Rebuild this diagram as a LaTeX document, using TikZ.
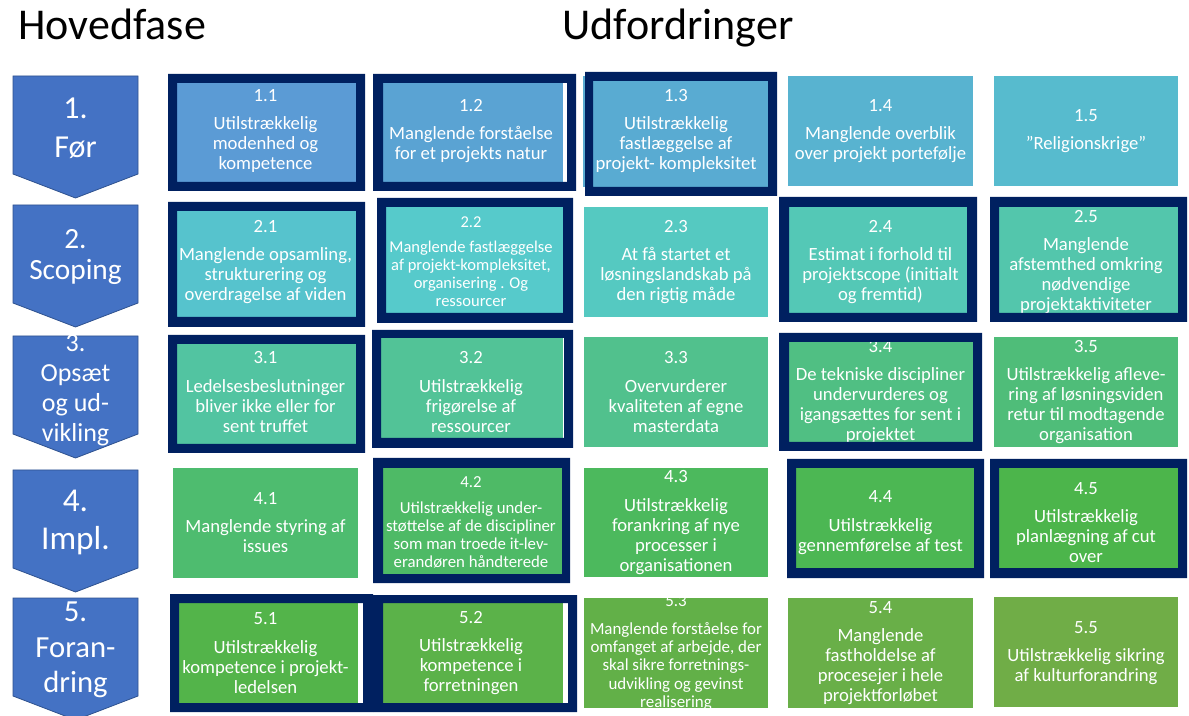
\documentclass[tikz,border=0pt]{standalone}
\usepackage{fontspec}
\setmainfont{Carlito}

% frame and phase colours
\definecolor{navy}{HTML}{002060}
\definecolor{phase}{HTML}{4472C4}
\definecolor{phaseline}{HTML}{2F528F}

% challenge boxes: hue sweep from blue to green
\definecolor{c11}{Hsb}{208.5,.573,.835}
\definecolor{c12}{Hsb}{203.8,.574,.828}
\definecolor{c13}{Hsb}{199.1,.574,.822}
\definecolor{c14}{Hsb}{194.4,.575,.815}
\definecolor{c15}{Hsb}{189.8,.576,.809}
\definecolor{c21}{Hsb}{185.1,.577,.802}
\definecolor{c22}{Hsb}{180.4,.577,.796}
\definecolor{c23}{Hsb}{175.7,.578,.789}
\definecolor{c24}{Hsb}{171.0,.579,.783}
\definecolor{c25}{Hsb}{166.3,.579,.776}
\definecolor{c31}{Hsb}{161.6,.580,.770}
\definecolor{c32}{Hsb}{156.9,.581,.763}
\definecolor{c33}{Hsb}{152.3,.582,.757}
\definecolor{c34}{Hsb}{147.6,.582,.750}
\definecolor{c35}{Hsb}{142.9,.583,.743}
\definecolor{c41}{Hsb}{138.2,.584,.737}
\definecolor{c42}{Hsb}{133.5,.584,.730}
\definecolor{c43}{Hsb}{128.8,.585,.724}
\definecolor{c44}{Hsb}{124.1,.586,.717}
\definecolor{c45}{Hsb}{119.4,.586,.711}
\definecolor{c51}{Hsb}{114.8,.587,.704}
\definecolor{c52}{Hsb}{110.1,.588,.698}
\definecolor{c53}{Hsb}{105.4,.589,.691}
\definecolor{c54}{Hsb}{100.7,.589,.685}
\definecolor{c55}{Hsb}{96.0,.590,.678}

% thick navy frame: outer rectangle minus inner hole
\newcommand{\navyframe}[8]{\fill[navy,even odd rule] (#1,#2) rectangle (#3,#4) (#5,#6) rectangle (#7,#8);}
% downward pentagon arrow for a phase, top edge at #1
\newcommand{\phaseshape}[1]{\filldraw[phasearrow] (13,#1) -- (138,#1) -- (138,#1+98) -- (75.5,#1+122) -- (13,#1+98) -- cycle;}

\begin{document}
\begin{tikzpicture}[x=0.75pt,y=-0.75pt,
  head/.style={font=\fontsize{33}{38}\selectfont, inner sep=0pt, anchor=base west},
  phasearrow/.style={fill=phase, draw=phaseline, line width=0.6pt},
  phasetxt/.style={text=white, align=center, inner sep=0pt},
  lbl/.style={text=white, align=center, inner sep=0pt, font=\fontsize{14}{15}\selectfont},
]
\useasboundingbox (0,0) rectangle (1189,716);
\fill[white] (0,0) rectangle (1189,716);

% headings
\node[head] (hfase) at (18,40) {Hovedfase};
\node[head] (udf) at (562,40) {Udfordringer};

% phases
\phaseshape{76}
\phaseshape{205}
\phaseshape{336}
\phaseshape{470}
\phaseshape{598}
\node[phasetxt, font=\fontsize{24}{29}\selectfont] (ph1) at (75.5,128) {1.\\Før};
\node[phasetxt, font=\fontsize{22}{23}\selectfont] (ph2) at (75.5,257) {2.\\Scoping};
\node[phasetxt, font=\fontsize{19.5}{22.5}\selectfont] (ph3) at (75.5,390) {3.\\Opsæt\\og ud-\\vikling};
\node[phasetxt, font=\fontsize{25}{28.5}\selectfont] (ph4) at (75.5,522) {4.\\Impl.};
\node[phasetxt, font=\fontsize{23}{26.5}\selectfont] (ph5) at (75.5,650) {5.\\Foran-\\dring};

% row 1
\fill[c11] (177,83) rectangle (356,182);
\node[lbl] (t11) at (265.5,131) {1.1\\[6.5pt]Utilstrækkelig\\modenhed og\\kompetence};
\navyframe{168}{74}{365}{191}{177}{83}{356}{182}

\fill[c12] (383,83) rectangle (563,182);
\node[lbl] (t12) at (471,131) {1.2\\[6.5pt]Manglende forståelse\\for et projekts natur};
\navyframe{373}{74}{576}{191}{383}{83}{567}{182}

\fill[c13] (583,76) rectangle (768,187);
\node[lbl] (t13) at (676,131) {1.3\\[6.5pt]Utilstrækkelig\\fastlæggelse af\\projekt- kompleksitet};
\navyframe{585}{72}{777}{196}{593}{81}{768}{187}

\fill[c14] (788,76) rectangle (973,186);
\node[lbl] (t14) at (880.5,131) {1.4\\[6.5pt]Manglende overblik\\over projekt portefølje};

\fill[c15] (994,76) rectangle (1178,186);
\node[lbl] (t15) at (1086,131) {1.5\\[6.5pt]”Religionskrige”};

% row 2
\fill[c21] (177,211) rectangle (356,317);
\node[lbl] (t21) at (265.5,262) {2.1\\[6.5pt]Manglende opsamling,\\strukturering og\\overdragelse af viden};
\navyframe{168}{202}{365}{327}{177}{211}{356}{317}

\fill[c22] (386,207) rectangle (563,313);
\node[lbl, font=\fontsize{12.4}{13.6}\selectfont] (t22) at (471,262) {2.2\\[5pt]Manglende fastlæggelse\\af projekt-kompleksitet,\\organisering . Og\\ressourcer};
\navyframe{377}{198}{573}{323}{386}{207}{563}{313}

\fill[c23] (584,207) rectangle (768,317);
\node[lbl] (t23) at (676,262) {2.3\\[6.5pt]At få startet et\\løsningslandskab på\\den rigtig måde};

\fill[c24] (789,207) rectangle (967,313);
\node[lbl] (t24) at (880.5,262) {2.4\\[6.5pt]Estimat i forhold til\\projektscope (initialt\\og fremtid)};
\navyframe{779}{197}{977}{322}{789}{207}{967}{313}

\fill[c25] (999,207) rectangle (1178,313);
\node[lbl] (t25) at (1086,262) {2.5\\[6.5pt]Manglende\\afstemthed omkring\\nødvendige\\projektaktiviteter};
\navyframe{990}{197}{1187}{322}{999}{207}{1178}{313}

% row 3
\fill[c31] (177,344) rectangle (356,444);
\node[lbl] (t31) at (265.5,392) {3.1\\[6.5pt]Ledelsesbeslutninger\\bliver ikke eller for\\sent truffet};
\navyframe{168}{335}{365}{453}{177}{344}{356}{444}

\fill[c32] (381,338) rectangle (563,438);
\node[lbl] (t32) at (471,392) {3.2\\[6.5pt]Utilstrækkelig\\frigørelse af\\ressourcer};
\navyframe{372}{330}{573}{448}{381}{338}{564}{438}

\fill[c33] (584,337) rectangle (768,447);
\node[lbl] (t33) at (676,392) {3.3\\[6.5pt]Overvurderer\\kvaliteten af egne\\masterdata};

\fill[c34] (789,342) rectangle (973,442);
\node[lbl] (t34) at (880.5,392) {3.4\\[6.5pt]De tekniske discipliner\\undervurderes og\\igangsættes for sent i\\projektet};
\navyframe{779}{333}{982}{451}{789}{342}{973}{442}

\fill[c35] (994,337) rectangle (1178,447);
\node[lbl] (t35) at (1086,392) {3.5\\[6.5pt]Utilstrækkelig afleve-\\ring af løsningsviden\\retur til modtagende\\organisation};

% row 4
\fill[c41] (173,468) rectangle (358,578);
\node[lbl] (t41) at (265.5,522.5) {4.1\\[6.5pt]Manglende styring af\\issues};

\fill[c42] (383,468) rectangle (562,574);
\node[lbl, font=\fontsize{12.6}{13.5}\selectfont] (t42) at (471,522.5) {4.2\\[6pt]Utilstrækkelig under-\\støttelse af de discipliner\\som man troede it-lev-\\erandøren håndterede};
\navyframe{373}{458}{570}{583}{383}{468}{562}{574}

\fill[c43] (584,468) rectangle (768,577);
\node[lbl] (t43) at (676,522.5) {4.3\\[6.5pt]Utilstrækkelig\\forankring af nye\\processer i\\organisationen};

\fill[c44] (796,468) rectangle (974,568);
\node[lbl] (t44) at (880.5,522.5) {4.4\\[6.5pt]Utilstrækkelig\\gennemførelse af test};
\navyframe{787}{459}{984}{578}{796}{468}{974}{568}

\fill[c45] (999,468) rectangle (1178,568);
\node[lbl] (t45) at (1086,522.5) {4.5\\[6.5pt]Utilstrækkelig\\planlægning af cut\\over};
\navyframe{990}{459}{1187}{578}{999}{468}{1178}{568}

% row 5
\fill[c51] (179,603) rectangle (358,703);
\node[lbl] (t51) at (265.5,653) {5.1\\[6.5pt]Utilstrækkelig\\kompetence i projekt-\\ledelsen};
\navyframe{170}{594}{373}{712}{179}{603}{363}{703}

\fill[c52] (383,603) rectangle (563,703);
\node[lbl] (t52) at (471,653) {5.2\\[6.5pt]Utilstrækkelig\\kompetence i\\forretningen};
\navyframe{373}{595}{577}{712}{383}{603}{568}{703}

\fill[c53] (584,598) rectangle (768,708);
\node[lbl, font=\fontsize{12.7}{13.8}\selectfont] (t53) at (676,653) {5.3\\[7pt]Manglende forståelse for\\omfanget af arbejde, der\\skal sikre forretnings-\\udvikling og gevinst\\realisering};

\fill[c54] (788,598) rectangle (973,708);
\node[lbl] (t54) at (880.5,653) {5.4\\[6.5pt]Manglende\\fastholdelse af\\procesejer i hele\\projektforløbet};

\fill[c55] (994,597) rectangle (1178,707);
\node[lbl] (t55) at (1086,653) {5.5\\[6.5pt]Utilstrækkelig sikring\\af kulturforandring};

\end{tikzpicture}
\end{document}
